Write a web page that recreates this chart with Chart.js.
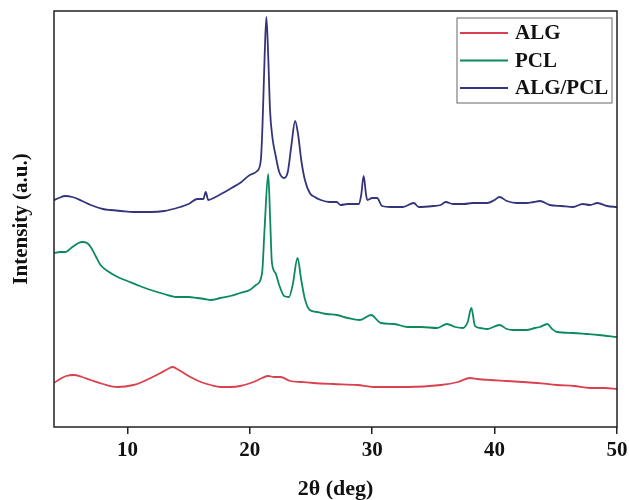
<!DOCTYPE html>
<html>
<head>
<meta charset="utf-8">
<script src="https://cdn.jsdelivr.net/npm/chart.js@4.4.1/dist/chart.umd.min.js"></script>
<style>
  html, body { margin: 0; padding: 0; background: #fff; }
  #wrap { width: 629px; height: 500px; position: relative; }
</style>
</head>
<body>
<div id="wrap"><canvas id="c"></canvas></div>
<script>
// ---- data (2θ in degrees, intensity in arbitrary units, offset stacked as in the figure) ----
const seriesNames = ["ALG", "PCL", "ALG/PCL"];
const xTickValues = [10, 20, 30, 40, 50];

const algAngles = [4.0, 4.5, 5.0, 5.6, 6.3, 7.0, 8.0, 9.2, 10.5, 11.2, 11.9, 12.7, 13.3, 13.7, 14.2, 14.6, 15.3, 16.0, 16.8, 17.6, 18.5, 19.2, 20.3, 21.0, 21.5, 22.0, 22.5, 23.3, 24.2, 25.2, 26.8, 28.8, 30.1, 32.9, 35.6, 37.0, 38.0, 38.6, 39.6, 41.0, 42.3, 43.5, 45.1, 46.5, 47.8, 49.0, 50.0];
const algIntensity = [44, 48, 51, 52, 50, 47, 43, 40, 42, 45, 49, 54, 58, 60, 57, 54, 49, 45, 42, 40, 40, 41, 45, 49, 51, 50, 50, 46, 45, 44, 43, 42, 40, 40, 42, 45, 49, 48, 47, 46, 45, 44, 42, 41, 39, 39, 38];

const pclAngles = [4.0, 4.5, 4.9, 5.5, 6.0, 6.3, 6.7, 7.0, 7.4, 7.8, 8.5, 9.2, 10.0, 11.0, 11.9, 13.0, 14.1, 15.0, 15.7, 16.3, 16.8, 17.6, 18.4, 19.2, 20.0, 20.5, 21.0, 21.2, 21.5, 21.65, 21.8, 22.1, 22.4, 22.8, 23.2, 23.5, 23.9, 24.2, 24.5, 24.9, 25.5, 26.3, 27.1, 28.0, 29.0, 29.9, 30.7, 31.8, 32.9, 34.0, 35.3, 36.1, 36.8, 37.4, 37.8, 38.1, 38.4, 38.8, 39.4, 40.4, 41.0, 41.5, 42.6, 43.3, 43.7, 44.3, 44.7, 45.1, 46.4, 47.5, 48.5, 50.0];
const pclIntensity = [174, 175, 175, 180, 184, 185, 184, 180, 171, 162, 155, 150, 146, 141, 137, 133, 130, 130, 129, 128, 127, 129, 131, 134, 137, 142, 154, 197, 253, 212, 165, 154, 142, 131, 130, 142, 169, 147, 128, 117, 115, 113, 112, 109, 107, 112, 104, 103, 100, 100, 99, 103, 100, 99, 105, 119, 101, 99, 98, 102, 98, 97, 97, 99, 100, 103, 98, 95, 94, 93, 92, 90];

const blendAngles = [4.0, 4.4, 4.9, 5.5, 6.3, 7.0, 8.0, 8.6, 9.5, 10.5, 11.9, 13.0, 14.3, 15.0, 15.7, 16.2, 16.4, 16.6, 17.2, 17.8, 18.5, 19.2, 20.0, 20.6, 20.9, 21.05, 21.2, 21.35, 21.5, 21.65, 21.85, 22.1, 22.4, 22.8, 23.1, 23.4, 23.7, 23.95, 24.2, 24.5, 24.9, 25.3, 25.8, 26.5, 27.1, 27.4, 28.0, 28.9, 29.1, 29.3, 29.5, 29.6, 30.0, 30.4, 30.8, 31.5, 32.5, 33.4, 33.8, 35.0, 35.6, 36.0, 36.6, 37.5, 38.2, 39.4, 40.0, 40.4, 41.0, 41.8, 42.6, 43.2, 43.7, 44.5, 45.5, 46.4, 47.2, 47.8, 48.4, 49.2, 50.0];
const blendIntensity = [227, 229, 231, 230, 226, 222, 218, 217, 216, 215, 215, 216, 220, 223, 228, 228, 235, 227, 230, 234, 239, 244, 252, 256, 267, 307, 367, 410, 372, 317, 289, 272, 255, 249, 255, 282, 306, 292, 267, 247, 234, 230, 227, 225, 225, 222, 223, 223, 232, 251, 232, 227, 229, 229, 221, 220, 220, 224, 220, 221, 222, 225, 223, 223, 224, 224, 227, 230, 226, 224, 224, 225, 226, 222, 221, 220, 223, 222, 224, 221, 220];

const seriesColors = ["#d8414d", "#0b8a5b", "#34347c"];

function toPoints(xs, ys) { return xs.map((x, i) => ({ x: x, y: ys[i] })); }

const serifBold = (size) => ({ family: "'Liberation Serif', 'DejaVu Serif', serif", size: size, weight: 'bold', lineHeight: 1 });

// frame around the plot area
const framePlugin = {
  id: 'frame',
  afterDatasetsDraw(chart) {
    const { ctx, chartArea: a } = chart;
    ctx.save();
    ctx.strokeStyle = '#222';
    ctx.lineWidth = 1.5;
    ctx.strokeRect(a.left, a.top, a.right - a.left, a.bottom - a.top);
    ctx.restore();
  }
};

// boxed legend inside the plot area (top right)
const boxLegendPlugin = {
  id: 'boxLegend',
  afterDraw(chart) {
    const { ctx, chartArea: a } = chart;
    const ds = chart.data.datasets;
    const boxRight = a.right - 5, boxTop = a.top + 7;
    const boxW = 155, rowH = 27.5, boxH = 16 + rowH * (ds.length - 1) + 14;
    const boxLeft = boxRight - boxW;
    ctx.save();
    ctx.strokeStyle = '#666';
    ctx.lineWidth = 1;
    ctx.strokeRect(boxLeft, boxTop, boxW, boxH);
    ctx.font = "bold 21px 'Liberation Serif', serif";
    ctx.textBaseline = 'middle';
    ctx.textAlign = 'left';
    ds.forEach((d, i) => {
      const y = boxTop + 15 + rowH * i;
      ctx.strokeStyle = d.borderColor;
      ctx.lineWidth = 2;
      ctx.beginPath();
      ctx.moveTo(boxLeft + 3, y);
      ctx.lineTo(boxLeft + 51, y);
      ctx.stroke();
      ctx.fillStyle = '#111';
      ctx.fillText(d.label, boxLeft + 58, y + 1);
    });
    ctx.restore();
  }
};

const datasets = [
  { label: seriesNames[0], data: toPoints(algAngles, algIntensity), borderColor: seriesColors[0] },
  { label: seriesNames[1], data: toPoints(pclAngles, pclIntensity), borderColor: seriesColors[1] },
  { label: seriesNames[2], data: toPoints(blendAngles, blendIntensity), borderColor: seriesColors[2] }
].map(d => Object.assign(d, {
  borderWidth: 1.8, pointRadius: 0, fill: false, cubicInterpolationMode: 'monotone'
}));

new Chart(document.getElementById('c'), {
  type: 'line',
  data: { datasets: datasets },
  options: {
    responsive: true,
    maintainAspectRatio: false,
    animation: false,
    layout: { padding: { left: 0, right: 12, top: 11, bottom: 0 } },
    plugins: { legend: { display: false }, tooltip: { enabled: false } },
    scales: {
      x: {
        type: 'linear',
        min: 4, max: 50,
        afterBuildTicks: (scale) => { scale.ticks = xTickValues.map(v => ({ value: v })); },
        afterFit: (scale) => { scale.height = 73; scale.paddingLeft = 0; scale.paddingRight = 0; },
        border: { display: false },
        grid: { drawOnChartArea: false, drawTicks: true, tickLength: 7, color: '#222', lineWidth: 1.5 },
        ticks: { color: '#111', font: serifBold(21), padding: 6, maxRotation: 0 },
        title: { display: true, text: '2θ (deg)', color: '#111', font: serifBold(22), padding: { top: 0, bottom: 0 } }
      },
      y: {
        type: 'linear',
        min: 0, max: 416,
        afterFit: (scale) => { scale.width = 54; },
        border: { display: false },
        grid: { display: false },
        ticks: { display: false },
        title: { display: true, text: 'Intensity (a.u.)', color: '#111', font: serifBold(21), padding: { top: 11, bottom: 0 } }
      }
    }
  },
  plugins: [framePlugin, boxLegendPlugin]
});
</script>
</body>
</html>
